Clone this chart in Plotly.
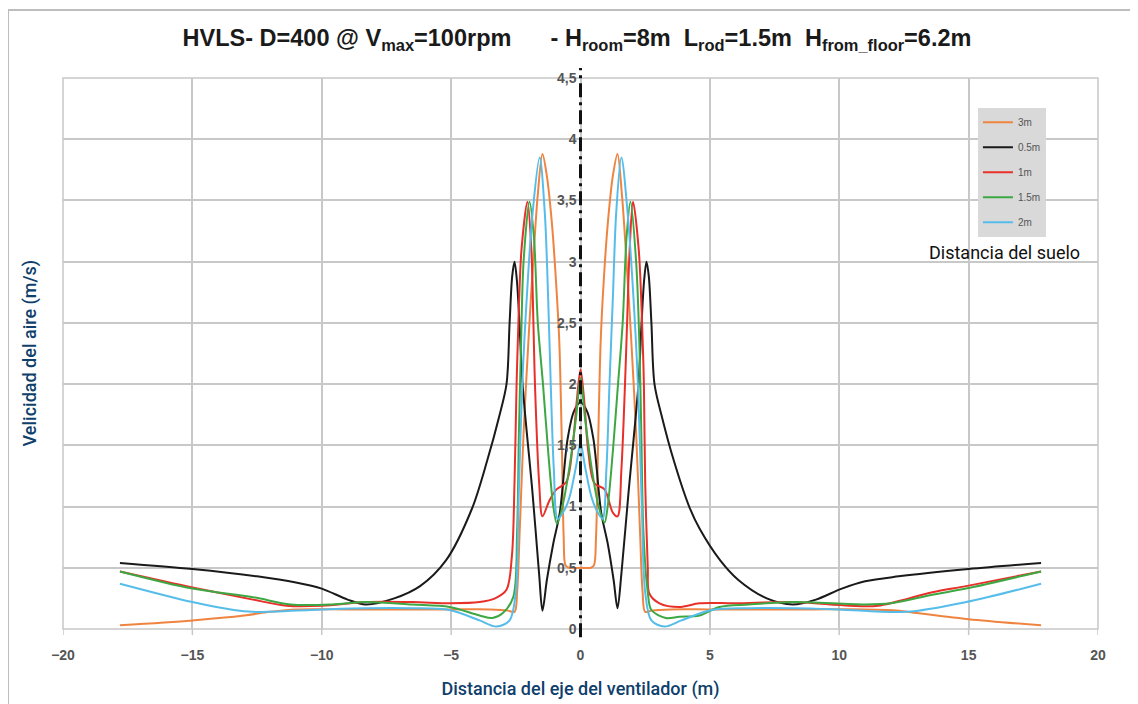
import plotly.graph_objects as go

# ---- data ----
series_names = ["3m", "0.5m", "1m", "1.5m", "2m"]
series_colors = ["#ef8440", "#1a1a1a", "#e8302a", "#3da843", "#56bdea"]

x_3m = [-17.8, -15, -13, -12, -11, -9, -7, -5, -3.5, -2.8, -2.55, -2.45, -2.35, -2.2, -2.0, -1.8, -1.65,
        -1.47, -1.3, -1.1, -0.95, -0.82, -0.72, -0.65, -0.58, -0.45, 0, 0.4, 0.52, 0.6, 0.68, 0.78,
        0.9, 1.05, 1.25, 1.43, 1.6, 1.75, 1.95, 2.15, 2.3, 2.4, 2.5, 2.75, 3.5, 5, 7, 9, 11, 12.3, 13,
        15, 17.8]
y_3m = [0.03, 0.07, 0.11, 0.14, 0.16, 0.16, 0.16, 0.16, 0.16, 0.15, 0.14, 0.3, 0.8, 1.6, 2.4, 3.1, 3.55,
        3.88, 3.7, 3.3, 2.85, 2.35, 1.5, 0.75, 0.52, 0.5, 0.5, 0.5, 0.52, 0.75, 1.5, 2.35,
        2.85, 3.3, 3.7, 3.88, 3.55, 3.1, 2.4, 1.6, 0.8, 0.3, 0.14, 0.15, 0.16, 0.16, 0.16, 0.16, 0.16, 0.15, 0.13,
        0.08, 0.03]

x_05m = [-17.8, -15, -12.5, -11, -10, -9, -8.3, -7.2, -6.2, -5.2, -4.2, -3.6, -3.15, -2.86, -2.74, -2.64,
         -2.55, -2.46, -2.36, -2.24, -1.85, -1.6, -1.47, -1.3, -1.05, -0.8, -0.5, -0.25, 0, 0.25, 0.5,
         0.8, 1.05, 1.28, 1.43, 1.58, 1.85, 2.24, 2.36, 2.46, 2.55, 2.64, 2.74, 2.86, 3.15, 3.6, 4.2,
         4.6, 5.4, 6.1, 7.2, 8.2, 9.1, 10.1, 11, 12.3, 15, 17.8]
y_05m = [0.54, 0.49, 0.43, 0.38, 0.33, 0.24, 0.2, 0.25, 0.35, 0.56, 0.98, 1.38, 1.73, 2.0, 2.5, 2.88,
         3.0, 2.85, 2.5, 2.0, 1.1, 0.45, 0.15, 0.4, 0.7, 0.95, 1.55, 1.78, 1.85, 1.78, 1.55,
         0.95, 0.7, 0.4, 0.17, 0.45, 1.1, 2.0, 2.5, 2.85, 3.0, 2.88, 2.5, 2.0, 1.73, 1.38, 1.0,
         0.82, 0.56, 0.4, 0.25, 0.2, 0.24, 0.33, 0.39, 0.43, 0.49, 0.54]

x_1m = [-17.8, -15, -12.66, -11.35, -10, -8.3, -6.5, -5, -3.9, -3.3, -2.86, -2.65, -2.55, -2.47, -2.4,
        -2.28, -2.05, -1.9, -1.82, -1.76, -1.6, -1.47, -1.2, -0.93, -0.55, -0.3, -0.15, 0, 0.15, 0.3,
        0.54, 0.93, 1.25, 1.43, 1.58, 1.72, 1.8, 1.9, 2.03, 2.25, 2.38, 2.45, 2.5, 2.6, 2.66, 3.05,
        3.82, 4.6, 6, 8.2, 10.4, 11.5, 13.6, 14.9, 17.8]
y_1m = [0.47, 0.34, 0.24, 0.19, 0.19, 0.22, 0.22, 0.21, 0.22, 0.25, 0.32, 0.6, 1.2, 2.0, 2.5,
        3.1, 3.49, 3.1, 2.5, 2.0, 1.2, 0.92, 1.05, 1.14, 1.2, 1.5, 1.85, 2.12, 1.85, 1.45,
        1.19, 1.14, 0.95, 0.92, 1.3, 2.0, 2.5, 3.1, 3.49, 3.1, 2.5, 2.0, 1.2, 0.5, 0.29, 0.21,
        0.18, 0.21, 0.21, 0.22, 0.19, 0.19, 0.3, 0.35, 0.47]

x_15m = [-17.8, -15, -12.66, -11.2, -9.6, -8.3, -6.5, -5.06, -3.9, -3.4, -3.0, -2.6, -2.45, -2.38,
         -2.3, -2.2, -1.97, -1.8, -1.65, -1.45, -1.25, -1.05, -0.91, -0.7, -0.42, -0.17, 0, 0.17,
         0.42, 0.7, 0.93, 1.05, 1.25, 1.45, 1.63, 1.78, 1.93, 2.15, 2.28, 2.35, 2.43, 2.6, 2.74,
         3.3, 3.82, 4.6, 5.37, 6.5, 8.2, 11, 12, 13.6, 14.9, 17.8]
y_15m = [0.47, 0.33, 0.26, 0.2, 0.2, 0.22, 0.2, 0.18, 0.11, 0.09, 0.13, 0.26, 0.8, 1.6,
         2.3, 3.0, 3.49, 3.2, 2.5, 2.0, 1.45, 1.0, 0.86, 1.0, 1.33, 1.73, 2.05, 1.73,
         1.33, 1.0, 0.87, 1.0, 1.45, 2.0, 2.5, 3.2, 3.49, 3.0, 2.3, 1.6, 0.8, 0.3, 0.155,
         0.09, 0.1, 0.11, 0.18, 0.2, 0.22, 0.2, 0.21, 0.28, 0.33, 0.47]

x_2m = [-17.8, -15, -13.4, -12.66, -10, -8.3, -6.5, -5.06, -3.9, -3.25, -2.74, -2.5, -2.4, -2.25, -2.05,
        -1.85, -1.58, -1.38, -1.25, -1.15, -1.03, -0.88, -0.6, -0.42, -0.17, 0, 0.17, 0.42, 0.6, 0.85,
        1.0, 1.12, 1.25, 1.38, 1.58, 1.82, 2.02, 2.22, 2.37, 2.5, 2.74, 3.25, 3.9, 5.06, 6.5, 8.3,
        10, 12.6, 14.9, 17.8]
y_2m = [0.37, 0.22, 0.155, 0.14, 0.16, 0.17, 0.17, 0.155, 0.07, 0.02, 0.07, 0.3, 1.0, 2.0, 2.8,
        3.4, 3.85, 3.4, 2.7, 2.0, 1.3, 0.9, 0.98, 1.08, 1.33, 1.52, 1.33, 1.08, 0.98, 0.9,
        1.3, 2.0, 2.7, 3.4, 3.85, 3.4, 2.8, 2.0, 1.0, 0.3, 0.07, 0.02, 0.07, 0.155, 0.17, 0.17,
        0.16, 0.14, 0.22, 0.37]

y_tickvals = [0, 0.5, 1, 1.5, 2, 2.5, 3, 3.5, 4, 4.5]
y_ticktext = ["0", "0,5", "1", "1,5", "2", "2,5", "3", "3,5", "4", "4,5"]
x_tickvals = [-20, -15, -10, -5, 0, 5, 10, 15, 20]

all_x = [x_3m, x_05m, x_1m, x_15m, x_2m]
all_y = [y_3m, y_05m, y_1m, y_15m, y_2m]

GRID = "#c8c8c8"
TICK = "#555555"
NAVY = "#0f3f6b"

fig = go.Figure()
for name, col, xs, ys in zip(series_names, series_colors, all_x, all_y):
    fig.add_trace(go.Scatter(
        x=xs, y=ys, mode="lines", name=name, legendgroup=name,
        line=dict(color=col, width=2, shape="spline", smoothing=0.9),
    ))

fig.update_layout(
    width=1138, height=704,
    margin=dict(l=55, r=48, t=70, b=83),
    paper_bgcolor="white", plot_bgcolor="white",
    title=dict(
        text="<b>HVLS- D=400 @ V<sub>max</sub>=100rpm      - H<sub>room</sub>=8m  L<sub>rod</sub>=1.5m  "
             "H<sub>from_floor</sub>=6.2m</b>",
        x=0.500, xanchor="center", y=0.958, yanchor="middle",
        font=dict(family="Liberation Sans Narrow, Arial Narrow, Liberation Sans, sans-serif",
                  size=23.5, color="#1a1a1a"),
    ),
    xaxis=dict(
        range=[-20, 20], tickvals=x_tickvals, showgrid=True, gridcolor=GRID, gridwidth=1.5,
        zeroline=False, showline=False, ticks="outside", ticklen=13, tickcolor="rgba(0,0,0,0)",
        tickfont=dict(family="Liberation Sans, Arial, sans-serif", size=14, color=TICK, weight="bold"),
        title=dict(text="Distancia del eje del ventilador (m)", standoff=20,
                   font=dict(family="Roboto, sans-serif", size=18, color=NAVY, weight=500)),
    ),
    yaxis=dict(
        range=[0, 4.5], tickvals=y_tickvals, ticktext=y_ticktext, showgrid=True, gridcolor=GRID,
        gridwidth=1.5, zeroline=False, showline=False, anchor="free", position=0.5,
        ticks="", ticklabelstandoff=4,
        tickfont=dict(family="Liberation Sans, Arial, sans-serif", size=14, color=TICK, weight="bold"),
    ),
    legend=dict(
        x=0.884, y=0.946, xanchor="left", yanchor="top",
        bgcolor="#d9d9d9", borderwidth=0,
        font=dict(family="Liberation Sans, Arial, sans-serif", size=10, color=TICK),
        tracegroupgap=6, traceorder="grouped", itemwidth=30,
    ),
    showlegend=True,
)

# short visible tick marks below the x axis
for tv in x_tickvals:
    fig.add_shape(type="line", xref="x", yref="paper", x0=tv, x1=tv, y0=-0.011, y1=0,
                  line=dict(color=GRID, width=1.5), layer="below")

# plot frame
fig.add_shape(type="rect", xref="paper", yref="paper", x0=0, x1=1, y0=0, y1=1,
              line=dict(color=GRID, width=1.5), layer="below")
# outer chart border
fig.add_shape(type="rect", xref="paper", yref="paper", x0=-0.0531, x1=1.0357, y0=-0.2, y1=1.1234,
              line=dict(color="#bdbdbd", width=2), layer="below")
# fan axis (dash-dot) at x = 0
fig.add_shape(type="line", xref="x", yref="paper", x0=0, x1=0, y0=-0.015, y1=1.018,
              line=dict(color="#111111", width=3, dash="14px,5px,3px,5px"), layer="above")

fig.add_annotation(text="Velicidad del aire (m/s)", xref="paper", yref="paper",
                   x=-0.032, y=0.5, textangle=-90, showarrow=False, xanchor="center", yanchor="middle",
                   font=dict(family="Roboto, sans-serif", size=18, color=NAVY, weight=500))
fig.add_annotation(text="Distancia del suelo", xref="paper", yref="paper",
                   x=0.910, y=0.684, showarrow=False, xanchor="center", yanchor="middle",
                   font=dict(family="Roboto, sans-serif", size=18, color="#111111"))

fig.write_html("out.html")
